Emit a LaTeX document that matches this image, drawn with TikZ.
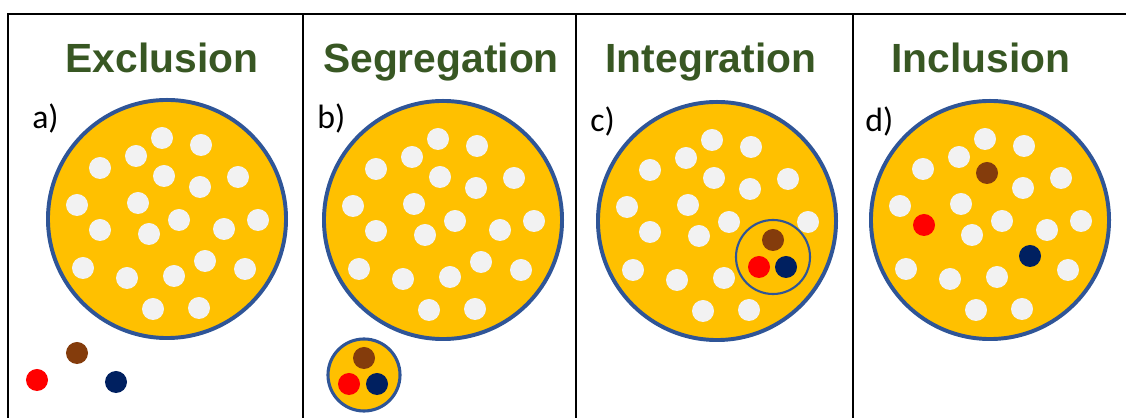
\documentclass[tikz,border=0pt]{standalone}
\usepackage{fontspec}
\setsansfont{Liberation Sans}
\newfontfamily\labelfont{Carlito}
\usepackage{tikz}
\usetikzlibrary{positioning}
\definecolor{titlegreen}{HTML}{385723}
\definecolor{ringblue}{HTML}{2F5597}
\definecolor{poolyellow}{HTML}{FFC000}
\definecolor{dotwhite}{HTML}{F2F2F2}
\definecolor{dotbrown}{HTML}{843C0C}
\definecolor{dotred}{HTML}{FF0000}
\definecolor{dotnavy}{HTML}{002060}

% offsets of the white dots from the centre of a pool (px)
\def\poolpattern{-5/-81,34/-74,-31/-63,-67/-51,-3/-43,33/-32,71/-42,-90/-14,-29/-16,12/1,-67/11,-18/15,57/10,91/1,-84/49,-40/59,7/57,38/42,78/50,-14/90,32/89}
\def\poolpatternd{-5/-81,34/-74,-31/-63,-67/-51,33/-32,71/-42,-90/-14,-29/-16,12/1,-18/15,57/10,91/1,-84/49,-40/59,7/57,78/50,-14/90,32/89}

\begin{document}
\begin{tikzpicture}[x=0.025cm, y=-0.025cm,
    title/.style={font=\sffamily\bfseries\fontsize{29}{34}\selectfont, text=titlegreen, anchor=base, inner sep=0pt},
    tag/.style={font=\labelfont\fontsize{24}{28}\selectfont, anchor=base west, inner sep=0pt},
    frame/.style={line width=1.4pt, black},
    pool/.style={circle, draw=ringblue, fill=poolyellow, line width=2.8pt, minimum size=5.95cm, inner sep=0pt},
    subpool/.style={circle, draw=ringblue, fill=poolyellow, inner sep=0pt},
    dot/.style={circle, fill=dotwhite, minimum size=0.55cm, inner sep=0pt},
    brown/.style={dot, fill=dotbrown},
    red/.style={dot, fill=dotred},
    navy/.style={dot, fill=dotnavy}
]
\useasboundingbox (0,0) rectangle (1126,418);

% Frame
\draw[frame] (8,418) -- (8,14) -- (1126,14);
\draw[frame] (303,14) -- (303,418);
\draw[frame] (576,14) -- (576,418);
\draw[frame] (853,14) -- (853,418);

% Titles
\node[title] (tExcl) at (162,73) {Exclusion};
\node[title] (tSegr) at (441,73) {Segregation};
\node[title] (tInte) at (711,73) {Integration};
\node[title] (tIncl) at (981,73) {Inclusion};

% Panel tags
\node[tag] (la) at (32,129) {a)};
\node[tag] (lb) at (317,129) {b)};
\node[tag] (lc) at (590,132) {c)};
\node[tag] (ld) at (865,132) {d)};

% a) Exclusion
\node[pool] (poolA) at (167,219) {};
\begin{scope}[shift={(167,219)}]
  \foreach \dx/\dy [count=\i] in \poolpattern
    \node[dot] (a\i) at (\dx,\dy) {};
\end{scope}
\node[brown] (aBrown) at (77,353) {};
\node[red] (aRed) at (37,380) {};
\node[navy] (aNavy) at (116,382) {};

% b) Segregation
\node[pool] (poolB) at (443,220) {};
\begin{scope}[shift={(443,220)}]
  \foreach \dx/\dy [count=\i] in \poolpattern
    \node[dot] (b\i) at (\dx,\dy) {};
\end{scope}
\node[subpool, line width=2.2pt, minimum size=1.8cm] (subB) at (364,375) {};
\node[brown] (bBrown) at (364,358) {};
\node[red] (bRed) at (349,384) {};
\node[navy] (bNavy) at (377,384) {};

% c) Integration
\node[pool] (poolC) at (717,221) {};
\begin{scope}[shift={(717,221)}]
  \foreach \dx/\dy [count=\i] in \poolpattern
    \node[dot] (c\i) at (\dx,\dy) {};
\end{scope}
\node[subpool, line width=1.5pt, minimum size=1.85cm] (subC) at (773,257) {};
\node[brown] (cBrown) at (773,240) {};
\node[red] (cRed) at (759,267) {};
\node[navy] (cNavy) at (786,267) {};

% d) Inclusion
\node[pool] (poolD) at (990,220) {};
\begin{scope}[shift={(990,220)}]
  \foreach \dx/\dy [count=\i] in \poolpatternd
    \node[dot] (d\i) at (\dx,\dy) {};
\end{scope}
\node[brown] (dBrown) at (987,173) {};
\node[red] (dRed) at (924,225) {};
\node[navy] (dNavy) at (1030,256) {};
\end{tikzpicture}
\end{document}
